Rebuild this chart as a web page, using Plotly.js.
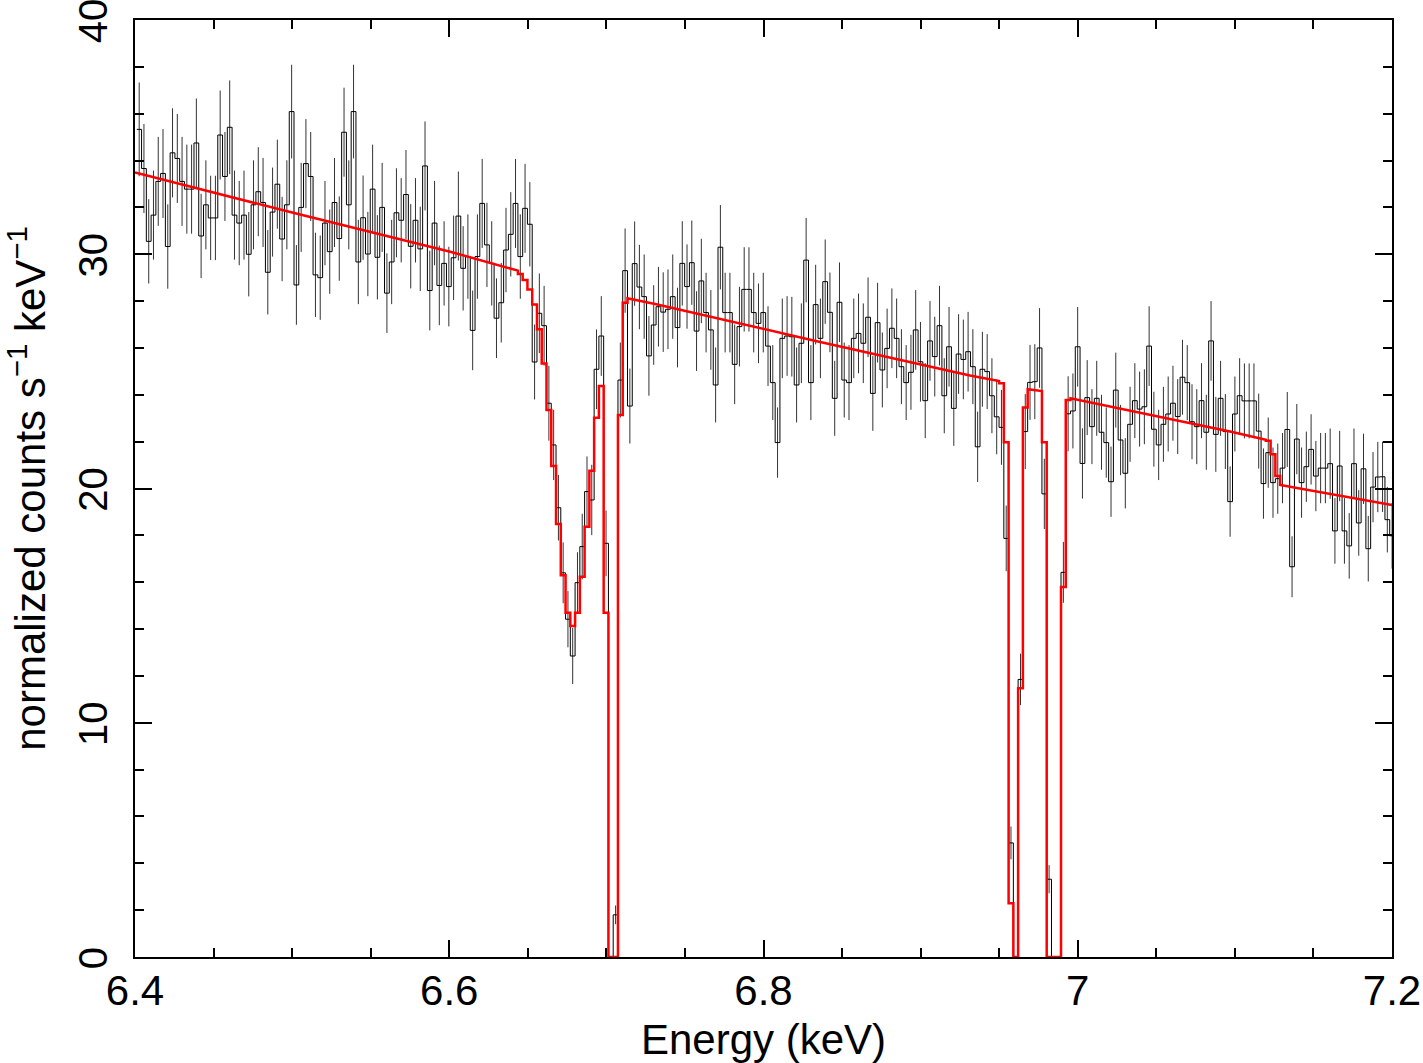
<!DOCTYPE html>
<html>
<head>
<meta charset="utf-8">
<script src="https://cdn.plot.ly/plotly-3.0.1.min.js"></script>
<style>html,body{margin:0;padding:0;background:#fff;}#chart{width:1423px;height:1063px;}</style>
</head>
<body>
<div id="chart"></div>
<script>
// Instrument energy grid (keV): first bin lower edge and bin width
const binStart = 6.40115;
const binWidth = 0.0030319;

// Observed spectrum: normalized counts s^-1 keV^-1, one value per bin
const counts = [
35.33,33.66,30.55,31.67,33.11,33.45,30.33,34.33,34.09,33.11,
32.78,32.78,34.75,30.78,32.11,31.55,31.55,35.09,33.32,35.42,
31.67,31.33,31.67,30.0,32.11,32.67,32.21,29.23,31.8,32.99,
30.65,32.11,36.09,28.69,32.0,33.87,33.32,29.12,29.0,31.33,
30.11,32.21,30.67,35.21,32.11,36.09,29.67,31.56,30.01,32.78,
29.87,32.0,28.34,29.67,31.77,31.45,32.55,30.34,31.45,30.23,
33.77,28.45,31.33,28.67,29.61,28.62,29.85,31.63,29.4,29.9,
26.75,29.9,32.17,30.4,29.61,27.27,27.93,30.18,30.85,32.17,
29.9,31.96,31.28,25.4,27.48,26.95,23.64,21.86,19.18,16.4,
14.42,12.85,15.98,17.52,19.87,19.51,25.09,26.51,17.66,0,
1.8,24.63,29.3,23.52,29.6,28.6,28.19,25.66,26.98,27.76,
27.53,27.65,28.19,26.87,29.61,28.62,29.64,26.72,28.86,27.51,
26.77,24.42,30.3,27.51,27.51,25.3,26.91,28.5,28.5,27.51,
27.05,27.51,26.08,24.52,21.96,26.41,26.51,26.48,24.42,26.2,
29.75,24.52,27.85,26.41,28.83,27.52,23.85,27.95,24.63,24.52,
26.41,26.62,26.2,27.31,24.06,27.08,25.06,25.98,26.84,26.41,
25.2,24.52,24.96,26.77,25.41,23.75,26.3,25.63,26.95,23.96,
26.05,23.42,25.74,25.51,25.84,25.2,21.78,25.09,24.99,23.96,
23.06,22.61,17.87,4.87,0,11.85,22.43,24.53,24.56,26.0,
19.77,3.32,0,0,16.42,23.19,23.31,26.05,21.07,23.88,
22.64,23.85,22.4,21.96,20.29,24.2,22.07,20.65,22.74,23.75,
23.39,23.49,26.08,22.53,21.86,22.74,23.18,23.64,23.07,24.75,
24.52,22.85,22.64,23.75,22.4,26.3,22.31,23.85,22.43,19.44,
23.18,23.96,23.74,23.74,23.74,22.45,20.21,21.53,20.25,20.42,
20.87,22.52,16.66,22.11,20.25,20.93,21.67,20.53,20.87,20.87,
21.06,18.19,20.96,18.19,17.55,21.06,18.53,20.84,17.43,20.06,
20.49,20.5,18.67,17.98
];

// 1-sigma errors read for each bin
const errors = [
2.0,1.9,1.8,1.9,1.9,1.9,1.8,1.9,1.9,1.9,
1.9,1.9,1.9,1.8,1.9,1.8,1.8,1.9,1.9,2.0,
1.9,1.8,1.9,1.8,1.9,1.9,1.9,1.8,1.9,1.9,
1.8,1.9,2.0,1.7,1.9,1.9,1.9,1.8,1.8,1.8,
1.8,1.9,1.8,1.9,1.9,2.0,1.8,1.8,1.8,1.9,
1.8,1.9,1.7,1.8,1.9,1.8,1.9,1.8,1.8,1.8,
1.9,1.7,1.8,1.7,1.8,1.7,1.8,1.9,1.8,1.8,
1.7,1.8,1.9,1.8,1.8,1.7,1.7,1.8,1.8,1.9,
1.8,1.9,1.8,1.6,1.7,1.7,1.6,1.5,1.4,1.3,
1.2,1.2,1.3,1.4,1.5,1.5,1.7,1.7,1.4,0,
0.4,1.6,1.8,1.6,1.8,1.8,1.8,1.7,1.7,1.7,
1.7,1.7,1.8,1.7,1.8,1.8,1.8,1.7,1.8,1.7,
1.7,1.6,1.8,1.7,1.7,1.7,1.7,1.8,1.8,1.7,
1.7,1.7,1.7,1.6,1.5,1.7,1.7,1.7,1.6,1.7,
1.8,1.6,1.7,1.7,1.8,1.7,1.6,1.7,1.6,1.6,
1.7,1.7,1.7,1.7,1.6,1.7,1.6,1.7,1.7,1.7,
1.6,1.6,1.6,1.7,1.7,1.6,1.7,1.7,1.7,1.6,
1.7,1.6,1.7,1.7,1.7,1.6,1.5,1.6,1.6,1.6,
1.6,1.6,1.4,0.7,0,1.1,1.6,1.6,1.6,1.7,
1.5,0.6,0,0,1.3,1.6,1.6,1.7,1.5,1.6,
1.6,1.6,1.6,1.5,1.5,1.6,1.5,1.5,1.6,1.6,
1.6,1.6,1.7,1.6,1.5,1.6,1.6,1.6,1.6,1.6,
1.6,1.6,1.6,1.6,1.6,1.7,1.6,1.6,1.6,1.5,
1.6,1.6,1.6,1.6,1.6,1.6,1.5,1.5,1.5,1.5,
1.5,1.6,1.3,1.5,1.5,1.5,1.5,1.5,1.5,1.5,
1.5,1.4,1.5,1.4,1.4,1.5,1.4,1.5,1.4,1.5,
1.5,1.5,1.4,1.4
];

// Best-fit model (red): vertices of the folded model curve (energy keV, value)
const modelE = [
6.4,6.5,6.6,6.64370,
6.64370,6.64673,6.64673,6.64976,6.64976,6.65280,6.65280,6.65583,
6.65583,6.65886,6.65886,6.66189,6.66189,6.66492,6.66492,6.66796,
6.66796,6.67099,6.67099,6.67402,6.67402,6.67705,6.67705,6.68008,
6.68008,6.68312,6.68312,6.68615,6.68615,6.68918,6.68918,6.69221,
6.69221,6.69524,6.69524,6.69828,6.69828,6.70131,6.70131,6.70737,
6.70737,6.71040,6.71040,6.71344,6.71344,
6.731,6.8325,6.9314,6.94992,
6.94992,6.95296,6.95296,6.95599,6.95599,6.95902,6.95902,6.96205,
6.96205,6.96508,6.96508,6.96812,6.96812,6.97721,6.97721,6.98024,
6.98024,6.98934,6.98934,6.99237,6.99237,6.99540,6.99540,
7.0969,7.11971,7.11971,7.12274,7.12274,7.12577,7.12577,7.12881,7.12881,7.2
];
const modelV = [
33.49,31.78,30.12,29.3,
29.16,29.16,28.9,28.9,28.5,28.5,27.86,27.86,
26.8,26.8,25.34,25.34,23.35,23.35,20.96,20.96,
18.48,18.48,16.3,16.3,14.7,14.7,14.13,14.13,
14.7,14.7,16.23,16.23,18.37,18.37,20.76,20.76,
23.02,23.02,24.38,24.38,14.7,14.7,0,0,
23.14,23.14,27.93,27.93,28.12,
27.88,26.31,24.82,24.59,
24.49,24.49,21.97,21.97,2.29,2.29,0,0,
11.47,11.47,23.46,23.46,24.24,24.16,21.97,21.97,
0,0,15.8,15.8,23.78,23.78,23.85,
22.43,22.08,22.04,22.04,21.46,21.46,20.53,20.53,20.15,19.3
];

const edges = [], centers = [], stepY = [];
for (let i = 0; i < counts.length; i++) {
  edges.push(binStart + i * binWidth);
  centers.push(binStart + (i + 0.5) * binWidth);
  stepY.push(counts[i]);
}
edges.push(binStart + counts.length * binWidth);
stepY.push(counts[counts.length - 1]);

const traces = [
  {x: centers, y: counts, type: 'scatter', mode: 'markers',
   marker: {size: 1, color: 'rgba(0,0,0,0)'},
   error_y: {type: 'data', array: errors, visible: true, width: 0, thickness: 1, color: '#333'},
   hoverinfo: 'skip', showlegend: false},
  {x: edges, y: stepY, type: 'scatter', mode: 'lines',
   line: {shape: 'hv', color: '#000', width: 1}, showlegend: false},
  {x: modelE, y: modelV, type: 'scatter', mode: 'lines',
   line: {color: '#ff0000', width: 2.5}, showlegend: false}
];

const fontFam = 'Liberation Sans, Arial, Helvetica, sans-serif';
const layout = {
  width: 1423, height: 1063,
  margin: {l: 135, r: 31, t: 20, b: 106},
  paper_bgcolor: '#fff', plot_bgcolor: '#fff',
  showlegend: false,
  font: {family: fontFam, color: '#000', size: 42},
  xaxis: {
    range: [6.4, 7.2], tick0: 6.4, dtick: 0.2, tickmode: 'linear',
    showgrid: false, zeroline: false,
    showline: true, linecolor: '#000', linewidth: 2, mirror: 'ticks',
    ticks: 'inside', ticklen: 17, tickwidth: 2, tickcolor: '#000',
    minor: {dtick: 0.05, ticks: 'inside', ticklen: 9, tickwidth: 2, tickcolor: '#000', showgrid: false},
    tickfont: {size: 42, family: fontFam},
    ticklabelstandoff: -4,
    ticklabeloverflow: 'allow',
    title: {text: 'Energy (keV)', font: {size: 42, family: fontFam}, standoff: 14}
  },
  yaxis: {
    range: [0, 40], tick0: 0, dtick: 10, tickmode: 'linear',
    showgrid: false, zeroline: false,
    showline: true, linecolor: '#000', linewidth: 2, mirror: 'ticks',
    ticks: 'inside', ticklen: 17, tickwidth: 2, tickcolor: '#000',
    minor: {dtick: 2, ticks: 'inside', ticklen: 9, tickwidth: 2, tickcolor: '#000', showgrid: false},
    tickangle: -90,
    ticklabelstandoff: 10,
    ticklabelshift: 7,
    ticklabeloverflow: 'allow',
    tickfont: {size: 40, family: fontFam},
    title: {text: 'normalized counts s<sup>\u22121</sup> keV<sup>\u22121</sup>', font: {size: 42, family: fontFam}, standoff: 28}
  }
};

Plotly.newPlot('chart', traces, layout, {staticPlot: true, displayModeBar: false});
</script>
</body>
</html>
